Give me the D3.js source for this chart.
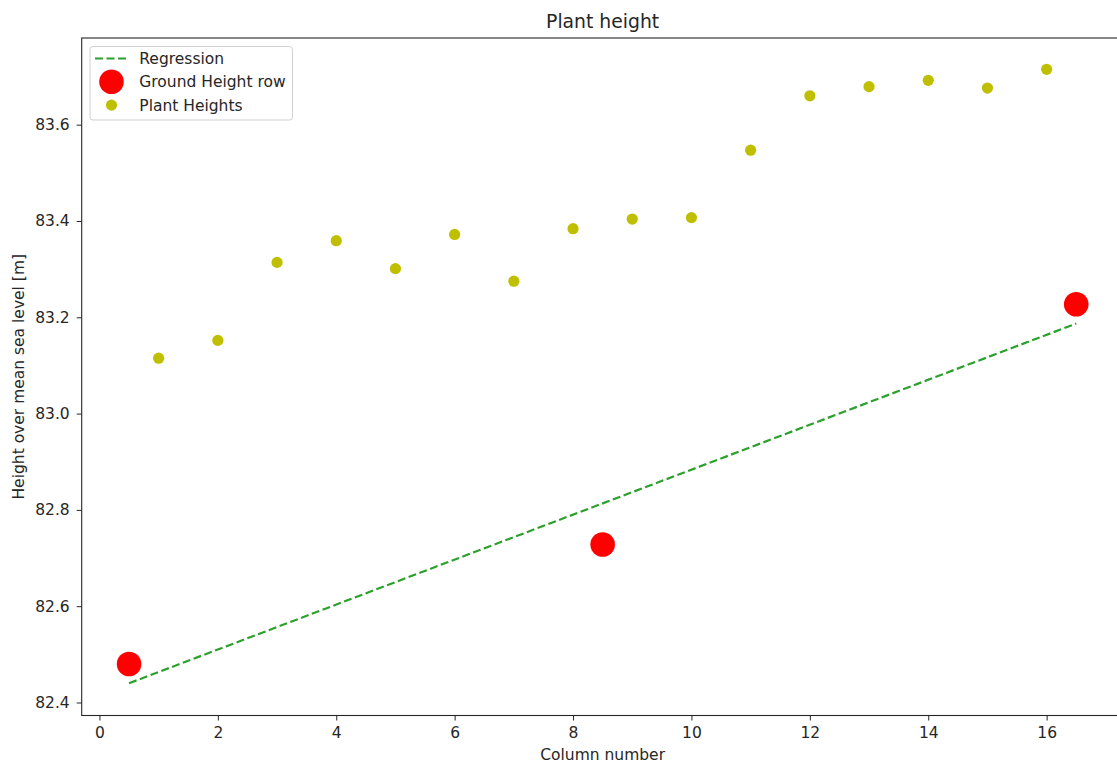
<!DOCTYPE html>
<html>
<head>
<meta charset="utf-8">
<script src="https://cdn.jsdelivr.net/npm/d3@7"></script>
<style>
  html, body { margin: 0; padding: 0; background: #fff; }
  svg { display: block; font-family: "DejaVu Sans", sans-serif; }
</style>
</head>
<body>
<svg id="chart" width="1117" height="766"></svg>
<script>
// Plant heights measured per column
const plantColumns = [1, 2, 3, 4, 5, 6, 7, 8, 9, 10, 11, 12, 13, 14, 15, 16];
const plantHeights = [83.115, 83.152, 83.314, 83.359, 83.301, 83.372, 83.275, 83.384,
                      83.404, 83.407, 83.547, 83.660, 83.679, 83.692, 83.676, 83.715];

// Ground height of the row at three reference columns
const groundColumns = [0.5, 8.5, 16.5];
const groundHeights = [82.480, 82.728, 83.227];

// Regression line end points
const regressionColumns = [0.5, 16.5];
const regressionHeights = [82.440, 83.187];

const xTicks = [0, 2, 4, 6, 8, 10, 12, 14, 16];
const yTicks = [82.4, 82.6, 82.8, 83.0, 83.2, 83.4, 83.6];

const svg = d3.select("#chart");
const plotLeft = 81.7, plotRight = 1123.6, plotTop = 38, plotBottom = 715.5;

const x = d3.scaleLinear().domain([-0.3, 17.3]).range([plotLeft, plotRight]);
const y = d3.scaleLinear().domain([82.373, 83.78]).range([plotBottom, plotTop]);

const ink = "#262626";
const labelSize = "15.5px";

// Axes
const xAxis = svg.append("g")
  .attr("transform", `translate(0,${plotBottom})`)
  .call(d3.axisBottom(x).tickValues(xTicks).tickFormat(d3.format("d")).tickSize(5).tickPadding(6));
const yAxis = svg.append("g")
  .attr("transform", `translate(${plotLeft},0)`)
  .call(d3.axisLeft(y).tickValues(yTicks).tickFormat(d3.format(".1f")).tickSize(5).tickPadding(7));

[xAxis, yAxis].forEach(g => {
  g.select(".domain").remove();
  g.selectAll(".tick line").attr("stroke", ink).attr("stroke-width", 1);
  g.selectAll(".tick text").attr("fill", ink).style("font-size", labelSize)
    .style("font-family", "'DejaVu Sans', sans-serif");
});

// Plot area clip (right spine falls outside the page)
svg.append("defs").append("clipPath").attr("id", "plot")
  .append("rect").attr("x", plotLeft).attr("y", plotTop)
  .attr("width", plotRight - plotLeft).attr("height", plotBottom - plotTop);

const plot = svg.append("g").attr("clip-path", "url(#plot)");

// Regression line
plot.append("path")
  .datum(regressionColumns.map((c, i) => [c, regressionHeights[i]]))
  .attr("d", d3.line().x(d => x(d[0])).y(d => y(d[1])))
  .attr("fill", "none")
  .attr("stroke", "#2ca02c")
  .attr("stroke-width", 2.2)
  .attr("stroke-dasharray", "8 3.5");

// Ground height markers
plot.selectAll("circle.ground")
  .data(groundColumns.map((c, i) => [c, groundHeights[i]]))
  .join("circle").attr("class", "ground")
  .attr("cx", d => x(d[0])).attr("cy", d => y(d[1]))
  .attr("r", 12.3).attr("fill", "#ff0000");

// Plant height markers
plot.selectAll("circle.plant")
  .data(plantColumns.map((c, i) => [c, plantHeights[i]]))
  .join("circle").attr("class", "plant")
  .attr("cx", d => x(d[0])).attr("cy", d => y(d[1]))
  .attr("r", 5.6).attr("fill", "#bfbf00");

// Spines
svg.append("rect")
  .attr("x", plotLeft).attr("y", plotTop)
  .attr("width", plotRight - plotLeft).attr("height", plotBottom - plotTop)
  .attr("fill", "none").attr("stroke", ink).attr("stroke-width", 1.1);

// Title and axis labels
svg.append("text").attr("x", (plotLeft + plotRight) / 2).attr("y", 28)
  .attr("text-anchor", "middle").attr("fill", ink).style("font-size", "18.8px")
  .text("Plant height");
svg.append("text").attr("x", (plotLeft + plotRight) / 2).attr("y", 760)
  .attr("text-anchor", "middle").attr("fill", ink).style("font-size", labelSize)
  .text("Column number");
svg.append("text")
  .attr("transform", `translate(24,${(plotTop + plotBottom) / 2}) rotate(-90)`)
  .attr("text-anchor", "middle").attr("fill", ink).style("font-size", labelSize)
  .text("Height over mean sea level [m]");

// Legend
const legend = svg.append("g");
legend.append("rect")
  .attr("x", 90).attr("y", 46.5).attr("width", 202.5).attr("height", 73.5)
  .attr("rx", 3).attr("fill", "#fff").attr("fill-opacity", 0.8)
  .attr("stroke", "#d0d0d0").attr("stroke-width", 1);
const items = [
  { label: "Regression", type: "line" },
  { label: "Ground Height row", type: "ground" },
  { label: "Plant Heights", type: "plant" }
];
items.forEach((it, i) => {
  const cy = 58.5 + i * 23.3;
  if (it.type === "line") {
    legend.append("line").attr("x1", 95).attr("x2", 127).attr("y1", cy).attr("y2", cy)
      .attr("stroke", "#2ca02c").attr("stroke-width", 2.2).attr("stroke-dasharray", "8 3.5");
  } else if (it.type === "ground") {
    legend.append("circle").attr("cx", 111.5).attr("cy", cy).attr("r", 12.3).attr("fill", "#ff0000");
  } else {
    legend.append("circle").attr("cx", 111.5).attr("cy", cy).attr("r", 5.6).attr("fill", "#bfbf00");
  }
  legend.append("text").attr("x", 139.3).attr("y", cy + 5.5)
    .attr("fill", ink).style("font-size", labelSize).text(it.label);
});
</script>
</body>
</html>
